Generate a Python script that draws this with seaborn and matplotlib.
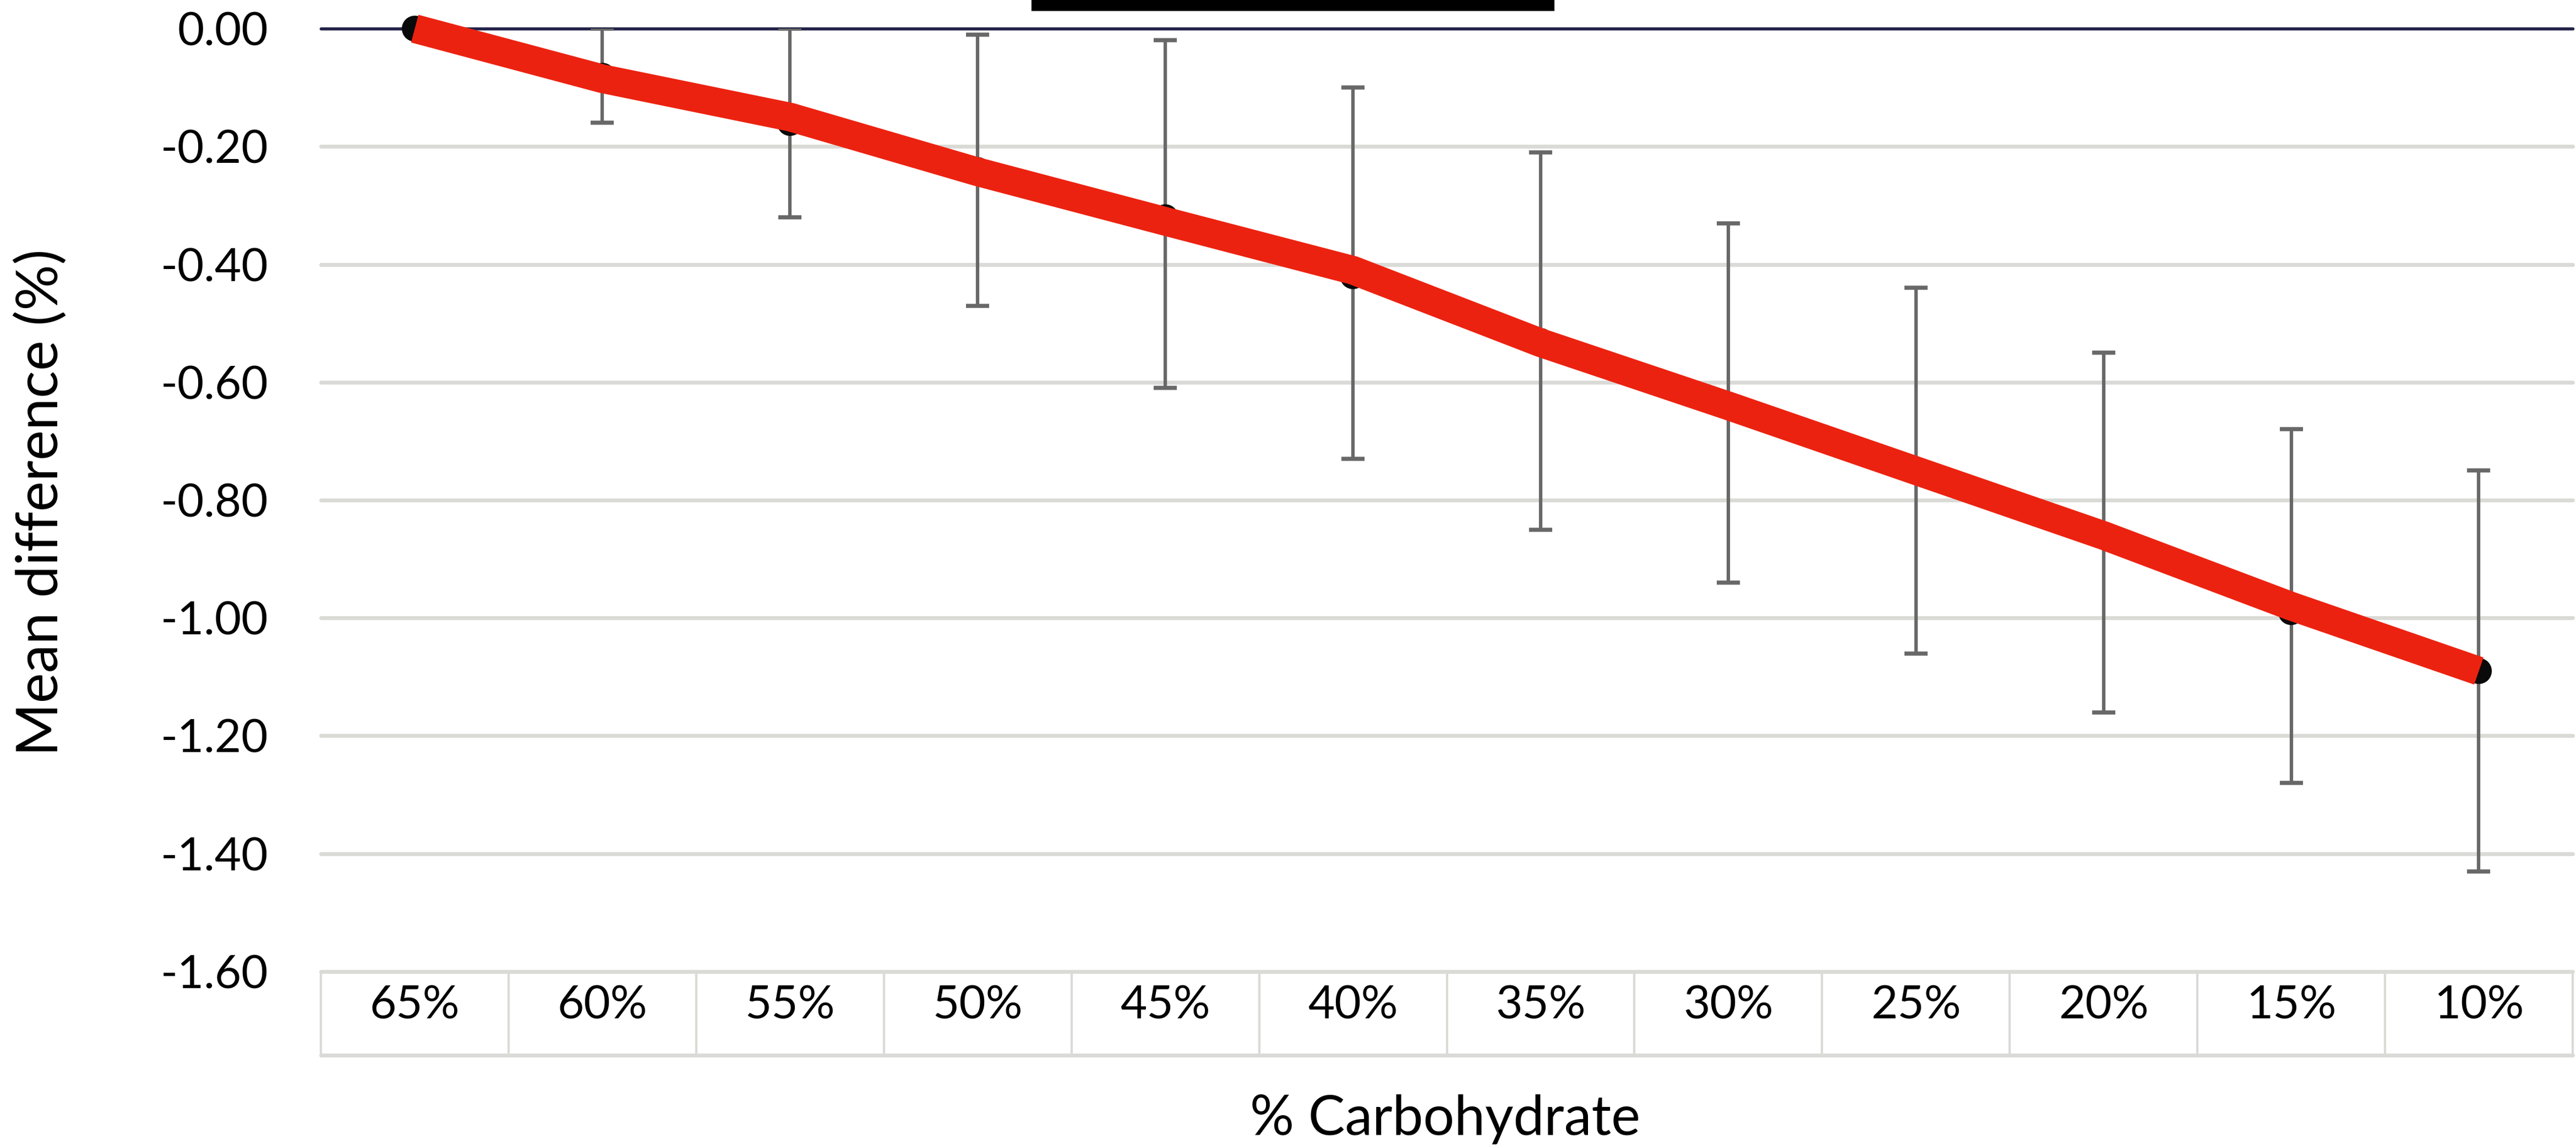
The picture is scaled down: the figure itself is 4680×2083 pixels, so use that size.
import numpy as np
import pandas as pd
import matplotlib
matplotlib.use("Agg")
import matplotlib.pyplot as plt
import matplotlib.transforms as mtransforms
from matplotlib.patches import Rectangle
import seaborn as sns

# ---- data ----
categories = ["65%", "60%", "55%", "50%", "45%", "40%", "35%", "30%", "25%", "20%", "15%", "10%"]
mean_diff = [0.00, -0.08, -0.16, -0.24, -0.32, -0.42, -0.53, -0.64, -0.75, -0.86, -0.99, -1.09]
ci_low = [np.nan, -0.16, -0.32, -0.47, -0.61, -0.73, -0.85, -0.94, -1.06, -1.16, -1.28, -1.43]
ci_high = [np.nan, 0.00, 0.00, -0.01, -0.02, -0.10, -0.21, -0.33, -0.44, -0.55, -0.68, -0.75]
trend = [0.00, -0.085, -0.15, -0.243, -0.327, -0.41, -0.533, -0.64, -0.75, -0.86, -0.98, -1.09]
ytick_values = [0.0, -0.2, -0.4, -0.6, -0.8, -1.0, -1.2, -1.4, -1.6]
ytick_labels = ["0.00", "-0.20", "-0.40", "-0.60", "-0.80", "-1.00", "-1.20", "-1.40", "-1.60"]

sns.set_theme(style="white")
plt.rcParams['font.family'] = ['Lato', 'DejaVu Sans']
plt.rcParams['text.color'] = 'black'
plt.rcParams['xtick.color'] = 'black'
plt.rcParams['ytick.color'] = 'black'

x = np.arange(len(categories))
df = pd.DataFrame({"x": x, "cat": categories, "mean": mean_diff,
                   "low": ci_low, "high": ci_high, "trend": trend})

fig = plt.figure(figsize=(15.6, 2083 / 300), dpi=300)
ax = fig.add_axes([0.1246, 0.1522, 0.8741, 0.8228])

grid_col = '#DADAD6'

# error bars
mean_arr = np.array(mean_diff)
lower = mean_arr - np.array(ci_low)
upper = np.array(ci_high) - mean_arr
ax.errorbar(x, mean_arr, yerr=[lower, upper], fmt='none', ecolor='#686868',
            elinewidth=1.5, capsize=5, capthick=1.8, zorder=2)

# points
sns.scatterplot(data=df, x="x", y="mean", s=128, color='#0A0A0A',
                edgecolor='none', zorder=3, clip_on=False, ax=ax, legend=False)

# thick red line
sns.lineplot(data=df, x="x", y="trend", color='#EC2210', linewidth=12.5,
             sort=False, estimator=None, zorder=4, ax=ax, legend=False)
red = ax.lines[-1]
red.set_solid_capstyle('butt')
red.set_solid_joinstyle('miter')
red.set_clip_on(False)

# zero line
ax.axhline(0, color='#22224A', lw=1.3, zorder=1.5, clip_on=False)

ax.set_xlim(-0.5, len(categories) - 0.5)
ax.set_ylim(-1.6, 0.0)

ax.set_yticks(ytick_values)
ax.set_yticklabels(ytick_labels, fontsize=20)
ax.set_xticks(x)
ax.set_xticklabels(categories, fontsize=20)
ax.tick_params(axis='y', length=0, pad=23)
ax.tick_params(axis='x', length=0, pad=6)

ax.grid(axis='y', color=grid_col, lw=1.7)
ax.grid(axis='x', visible=False)
ax.set_axisbelow(True)
for gl in ax.get_ygridlines():
    gl.set_clip_on(False)
for s in ax.spines.values():
    s.set_visible(False)
ax.set_xlabel("")
ax.set_ylabel("")

# category table box below the plot
trans = mtransforms.blended_transform_factory(ax.transData, ax.transAxes)
tb = -0.0887
for xb in np.arange(-0.5, len(categories), 1.0):
    ax.plot([xb, xb], [0, tb], transform=trans, color=grid_col, lw=1.0,
            clip_on=False, zorder=1)
ax.plot([-0.5, len(categories) - 0.5], [tb, tb], transform=trans,
        color=grid_col, lw=1.7, clip_on=False, zorder=1)

fig.text(0.561, 0.0096, "% Carbohydrate", ha='center', va='baseline', fontsize=24)
fig.text(0.0158, 0.5617, "Mean difference (%)", rotation=90, ha='center',
         va='center', fontsize=25)

# black bar at top
fig.add_artist(Rectangle((0.4004, 0.9904), 0.203, 0.0096,
                         transform=fig.transFigure, color='black', lw=0))

fig.savefig("out.png", dpi=300)
